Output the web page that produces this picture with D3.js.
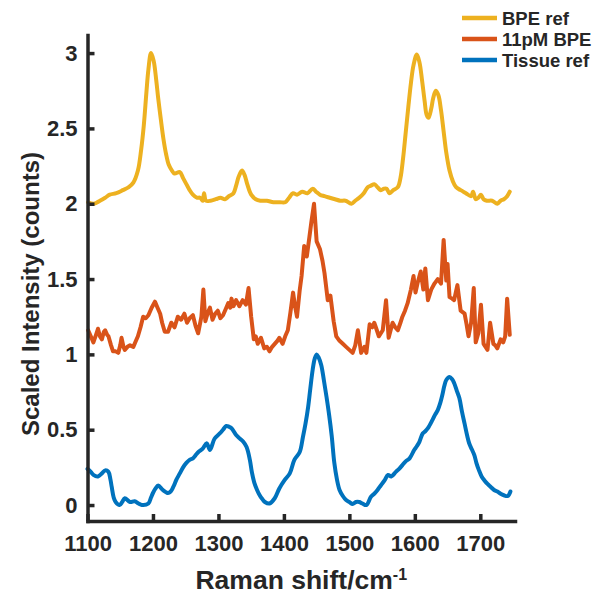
<!DOCTYPE html>
<html>
<head>
<meta charset="utf-8">
<script src="https://cdn.jsdelivr.net/npm/d3@7"></script>
<style>
    body { margin: 0; background: #fff; }
    text { font-family: "Liberation Sans", Arial, sans-serif; font-weight: bold; fill: #262626; }
    .axis path, .axis line { stroke: #262626; stroke-width: 3.5; }
    .axis text { font-size: 22px; }
</style>
</head>
<body>
<svg class="chart" width="596" height="596"></svg>
<script>
// spectra: [Raman shift, scaled intensity]
var bpeRef = [
    [1101, 2.01], [1110, 2.00], [1119, 2.02], [1127, 2.04], [1134, 2.06], [1144, 2.07], [1154, 2.09], [1163, 2.11],
    [1170, 2.14], [1177, 2.22], [1182, 2.36], [1186, 2.52], [1190, 2.74], [1193, 2.89], [1197, 3.00], [1201, 2.95],
    [1205, 2.82], [1208, 2.70], [1212, 2.56], [1216, 2.43], [1220, 2.33], [1224, 2.26], [1229, 2.22], [1233, 2.20],
    [1241, 2.21], [1246, 2.17], [1251, 2.13], [1256, 2.09], [1261, 2.06], [1267, 2.04], [1272, 2.04], [1276, 2.02],
    [1278, 2.07], [1281, 2.02], [1288, 2.02], [1296, 2.03], [1303, 2.04], [1310, 2.03], [1316, 2.05], [1323, 2.07],
    [1327, 2.12], [1331, 2.18], [1336, 2.22], [1340, 2.19], [1344, 2.13], [1350, 2.06], [1357, 2.03], [1364, 2.02],
    [1374, 2.02], [1384, 2.01], [1394, 2.01], [1402, 2.01], [1408, 2.04], [1414, 2.07], [1420, 2.06], [1428, 2.08],
    [1436, 2.07], [1444, 2.10], [1449, 2.08], [1455, 2.06], [1462, 2.05], [1470, 2.04], [1478, 2.03], [1486, 2.02],
    [1494, 2.02], [1503, 2.00], [1509, 2.02], [1515, 2.04], [1522, 2.07], [1528, 2.11], [1533, 2.12], [1538, 2.13],
    [1543, 2.11], [1548, 2.09], [1553, 2.10], [1557, 2.10], [1561, 2.07], [1567, 2.09], [1574, 2.11], [1578, 2.17],
    [1582, 2.30], [1586, 2.47], [1590, 2.64], [1594, 2.80], [1598, 2.92], [1603, 2.99], [1607, 2.94], [1611, 2.82],
    [1615, 2.68], [1618, 2.59], [1621, 2.57], [1625, 2.63], [1628, 2.70], [1632, 2.75], [1636, 2.72], [1640, 2.62],
    [1644, 2.48], [1648, 2.34], [1653, 2.22], [1658, 2.15], [1663, 2.11], [1670, 2.09], [1678, 2.07], [1686, 2.05],
    [1689, 2.08], [1693, 2.03], [1697, 2.04], [1701, 2.06], [1705, 2.03], [1710, 2.02], [1718, 2.02], [1726, 2.00],
    [1731, 2.02], [1736, 2.03], [1741, 2.05], [1745, 2.08]
];

var bpe11pM = [
    [1101, 1.16], [1105, 1.12], [1109, 1.08], [1113, 1.13], [1116, 1.17], [1119, 1.12], [1122, 1.10], [1125, 1.15],
    [1127, 1.16], [1130, 1.13], [1132, 1.12], [1136, 1.06], [1139, 1.02], [1143, 1.02], [1147, 1.01], [1150, 1.06],
    [1152, 1.11], [1155, 1.05], [1157, 1.03], [1161, 1.05], [1165, 1.06], [1170, 1.05], [1174, 1.09], [1177, 1.12],
    [1181, 1.18], [1185, 1.25], [1189, 1.24], [1193, 1.26], [1198, 1.31], [1203, 1.35], [1207, 1.31], [1211, 1.27],
    [1214, 1.21], [1218, 1.15], [1223, 1.15], [1228, 1.21], [1233, 1.18], [1238, 1.25], [1243, 1.23], [1248, 1.27],
    [1252, 1.21], [1256, 1.24], [1261, 1.26], [1265, 1.19], [1269, 1.14], [1274, 1.25], [1277, 1.43], [1280, 1.22],
    [1284, 1.28], [1287, 1.31], [1291, 1.23], [1295, 1.27], [1299, 1.29], [1303, 1.24], [1307, 1.26], [1311, 1.30],
    [1315, 1.34], [1318, 1.31], [1320, 1.37], [1323, 1.32], [1327, 1.36], [1332, 1.32], [1337, 1.36], [1342, 1.33],
    [1346, 1.44], [1350, 1.25], [1354, 1.10], [1357, 1.12], [1360, 1.07], [1365, 1.11], [1370, 1.04], [1374, 1.05],
    [1378, 1.02], [1382, 1.05], [1386, 1.07], [1390, 1.09], [1393, 1.11], [1398, 1.07], [1402, 1.12], [1406, 1.16],
    [1410, 1.28], [1414, 1.41], [1417, 1.32], [1420, 1.25], [1424, 1.42], [1427, 1.52], [1431, 1.72], [1435, 1.65],
    [1439, 1.78], [1442, 1.88], [1446, 2.00], [1450, 1.75], [1455, 1.70], [1459, 1.62], [1462, 1.54], [1467, 1.36],
    [1471, 1.39], [1476, 1.22], [1480, 1.12], [1485, 1.09], [1490, 1.07], [1495, 1.05], [1500, 1.03], [1505, 1.01],
    [1509, 1.06], [1513, 1.16], [1518, 1.01], [1523, 1.05], [1526, 1.01], [1531, 1.20], [1535, 1.18], [1538, 1.21],
    [1542, 1.16], [1545, 1.12], [1551, 1.16], [1556, 1.36], [1560, 1.11], [1566, 1.21], [1570, 1.18], [1574, 1.16],
    [1578, 1.21], [1581, 1.25], [1585, 1.29], [1589, 1.34], [1594, 1.43], [1598, 1.52], [1601, 1.41], [1604, 1.47],
    [1609, 1.55], [1613, 1.43], [1616, 1.57], [1620, 1.36], [1625, 1.43], [1630, 1.47], [1635, 1.50], [1640, 1.47],
    [1644, 1.76], [1648, 1.49], [1650, 1.60], [1653, 1.38], [1657, 1.37], [1660, 1.36], [1665, 1.46], [1670, 1.29],
    [1676, 1.27], [1679, 1.20], [1682, 1.12], [1686, 1.21], [1690, 1.44], [1693, 1.08], [1697, 1.14], [1701, 1.33],
    [1705, 1.07], [1708, 1.05], [1711, 1.03], [1715, 1.21], [1720, 1.07], [1723, 1.06], [1726, 1.04], [1731, 1.10],
    [1735, 1.08], [1738, 1.12], [1741, 1.37], [1745, 1.13]
];

var tissueRef = [
    [1100, 0.24], [1105, 0.22], [1109, 0.20], [1116, 0.19], [1122, 0.21], [1127, 0.23], [1132, 0.22], [1135, 0.17],
    [1137, 0.12], [1140, 0.05], [1143, 0.02], [1149, 0.00], [1153, 0.02], [1157, 0.045], [1165, 0.02], [1172, 0.025],
    [1178, 0.01], [1183, 0.00], [1193, 0.01], [1197, 0.05], [1200, 0.08], [1204, 0.11], [1208, 0.13], [1215, 0.10],
    [1223, 0.08], [1227, 0.09], [1231, 0.12], [1236, 0.17], [1241, 0.21], [1246, 0.25], [1251, 0.28], [1256, 0.30],
    [1261, 0.31], [1265, 0.33], [1269, 0.35], [1276, 0.375], [1282, 0.41], [1287, 0.365], [1294, 0.44], [1302, 0.475],
    [1307, 0.50], [1312, 0.525], [1316, 0.52], [1320, 0.51], [1327, 0.465], [1333, 0.44], [1338, 0.42], [1343, 0.385],
    [1348, 0.30], [1351, 0.22], [1355, 0.145], [1359, 0.10], [1363, 0.065], [1367, 0.04], [1371, 0.02], [1378, 0.01],
    [1386, 0.045], [1393, 0.11], [1401, 0.165], [1409, 0.21], [1416, 0.30], [1424, 0.35], [1429, 0.45], [1433, 0.54],
    [1437, 0.65], [1440, 0.76], [1444, 0.90], [1447, 0.97], [1450, 1.00], [1453, 0.98], [1457, 0.93], [1461, 0.83],
    [1465, 0.72], [1469, 0.60], [1473, 0.46], [1477, 0.28], [1481, 0.17], [1485, 0.10], [1490, 0.06], [1495, 0.033],
    [1500, 0.02], [1505, 0.007], [1510, 0.02], [1515, 0.02], [1520, 0.01], [1526, 0.00], [1533, 0.055], [1538, 0.075],
    [1543, 0.10], [1548, 0.13], [1554, 0.165], [1559, 0.20], [1564, 0.19], [1571, 0.22], [1576, 0.24], [1581, 0.265],
    [1586, 0.29], [1592, 0.31], [1599, 0.365], [1603, 0.39], [1607, 0.42], [1612, 0.475], [1616, 0.49], [1620, 0.51],
    [1627, 0.565], [1631, 0.60], [1635, 0.63], [1639, 0.68], [1642, 0.73], [1645, 0.79], [1648, 0.83], [1653, 0.85],
    [1657, 0.835], [1660, 0.81], [1664, 0.76], [1668, 0.71], [1672, 0.62], [1676, 0.54], [1680, 0.46], [1683, 0.41],
    [1687, 0.37], [1691, 0.33], [1694, 0.28], [1698, 0.23], [1702, 0.19], [1706, 0.165], [1711, 0.14], [1716, 0.12],
    [1721, 0.10], [1726, 0.09], [1731, 0.075], [1736, 0.065], [1742, 0.06], [1746, 0.09]
];

var seriesNames = ["BPE ref", "11pM BPE", "Tissue ref"];
var seriesColors = ["#EDB120", "#D95319", "#0072BD"];
var xTicks = [1100, 1200, 1300, 1400, 1500, 1600, 1700];
var yTicks = [0, 0.5, 1, 1.5, 2, 2.5, 3];

(function () {
    var svg = d3.select(".chart"),
        margin = { top: 35, right: 81, bottom: 75, left: 87.5 },
        width = +svg.attr("width") - margin.left - margin.right,
        height = +svg.attr("height") - margin.top - margin.bottom,
        g = svg.append("g").attr("transform", "translate(" + margin.left + "," + margin.top + ")");

    var x = d3.scaleLinear()
        .range([0, width])
        .domain([1100, 1753]);

    var y = d3.scaleLinear()
        .range([height, 0])
        .domain([-0.106, 3.12]);

    var series = [bpeRef, bpe11pM, tissueRef];
    var curves = [d3.curveCatmullRom, d3.curveLinear, d3.curveCatmullRom];

    series.forEach(function (s, i) {
        var line = d3.line()
            .curve(curves[i])
            .x(function (d) { return x(d[0]); })
            .y(function (d) { return y(d[1]); });

        g.append("path")
            .datum(s)
            .attr("fill", "none")
            .attr("stroke", seriesColors[i])
            .attr("stroke-width", 4)
            .attr("stroke-linejoin", "round")
            .attr("stroke-linecap", "round")
            .attr("d", line);
    });

    // MATLAB style: inward ticks, no box
    g.append("g")
        .attr("class", "axis")
        .attr("transform", "translate(0," + height + ")")
        .call(d3.axisBottom(x).tickValues(xTicks).tickFormat(d3.format("d")).tickSizeInner(-7).tickSizeOuter(0).tickPadding(14))
        .call(function (a) { a.select(".domain").attr("stroke-linecap", "square"); });

    g.append("g")
        .attr("class", "axis")
        .call(d3.axisLeft(y).tickValues(yTicks).tickFormat(d3.format("")).tickSizeInner(-7).tickSizeOuter(0).tickPadding(10))
        .call(function (a) { a.select(".domain").attr("stroke-linecap", "square"); });

    var xl = svg.append("text")
        .attr("x", margin.left + width / 2)
        .attr("y", 589)
        .attr("text-anchor", "middle")
        .style("font-size", "26.5px")
        .text("Raman shift/cm");
    xl.append("tspan")
        .attr("dy", "-0.55em")
        .style("font-size", "16px")
        .text("-1");

    svg.append("text")
        .attr("transform", "translate(39,294) rotate(-90)")
        .attr("text-anchor", "middle")
        .style("font-size", "24px")
        .text("Scaled Intensity (counts)");

    var legend = svg.append("g").attr("transform", "translate(462,18)");
    seriesNames.forEach(function (name, i) {
        legend.append("line")
            .attr("x1", 0)
            .attr("x2", 35)
            .attr("y1", i * 21)
            .attr("y2", i * 21)
            .attr("stroke", seriesColors[i])
            .attr("stroke-width", 4.5);
        legend.append("text")
            .attr("x", 40)
            .attr("y", i * 21)
            .attr("dy", "0.36em")
            .style("font-size", "18.5px")
            .text(name);
    });
})();
</script>
</body>
</html>
